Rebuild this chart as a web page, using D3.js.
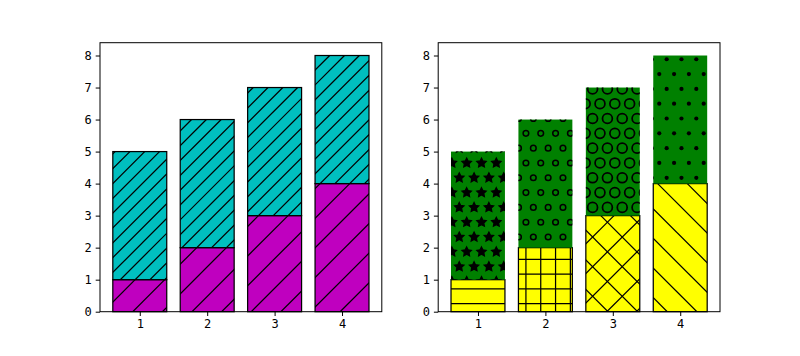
<!DOCTYPE html>
<html>
<head>
<meta charset="utf-8">
<script src="https://cdn.jsdelivr.net/npm/d3@7"></script>
<style>
  html, body { margin: 0; padding: 0; background: #fff; }
  svg { display: block; }
  text { font-family: "DejaVu Sans Mono", monospace; font-size: 12px; fill: #000; }
</style>
</head>
<body>
<svg id="chart" width="800" height="356"></svg>
<script>
// ---- data ----
const categories = [1, 2, 3, 4];
const bottomValues = [1, 2, 3, 4];
const topValues = [4, 4, 4, 4];
const yTickValues = [0, 1, 2, 3, 4, 5, 6, 7, 8];
const xTickValues = [1, 2, 3, 4];
const leftBottomHatch = ["/", "/", "/", "/"];
const leftTopHatch = ["//", "//", "//", "//"];
const rightBottomHatch = ["-", "+", "x", "\\"];
const rightTopHatch = ["*", "o", "O", "."];

// ---- layout ----
const W = 800, H = 356;
const DPI = 800 / 9;            // figure 9in wide
const T = DPI;                  // hatch tile size (px)
const S = T / 6;                // hatch density 6
const LW = DPI / 72;            // 1pt in px
const axTop = 42.7, axBottom = 311.7;
const axesX = [[100, 381.8], [438.2, 720]];

const svg = d3.select("#chart");
const defs = svg.append("defs");
let clipId = 0;

function drawHatch(g, pattern, x0, y0, x1, y1) {
  const id = "clip" + (clipId++);
  defs.append("clipPath").attr("id", id)
    .append("rect").attr("x", x0).attr("y", y0).attr("width", x1 - x0).attr("height", y1 - y0);
  const hg = g.append("g").attr("clip-path", `url(#${id})`);
  const line = (ax, ay, bx, by) => hg.append("line")
    .attr("x1", ax).attr("y1", ay).attr("x2", bx).attr("y2", by)
    .attr("stroke", "#000").attr("stroke-width", LW).attr("stroke-linecap", "butt");
  const cnt = ch => pattern.split(ch).length - 1;
  const ne = cnt("/") + cnt("x") + cnt("X");
  const se = cnt("\\") + cnt("x") + cnt("X");
  const hz = cnt("-") + cnt("+");
  const vt = cnt("|") + cnt("+");
  if (ne) {
    const d = 2 * T / (ne * 6);
    for (let m = Math.floor((x0 + y0) / d) - 1; m <= Math.ceil((x1 + y1) / d) + 1; m++) {
      const c = m * d;
      line(c - y1, y1, c - y0, y0);
    }
  }
  if (se) {
    const d = 2 * T / (se * 6);
    for (let m = Math.floor((x0 - y1) / d) - 1; m <= Math.ceil((x1 - y0) / d) + 1; m++) {
      const c = m * d;
      line(c + y0, y0, c + y1, y1);
    }
  }
  if (hz) {
    const d = T / (hz * 6);
    for (let k = Math.floor(y0 / d) - 1; k <= Math.ceil(y1 / d) + 1; k++) {
      const y = d / 2 + k * d;
      line(x0, y, x1, y);
    }
  }
  if (vt) {
    const d = T / (vt * 6);
    for (let k = Math.floor(x0 / d) - 1; k <= Math.ceil(x1 / d) + 1; k++) {
      const x = d / 2 + k * d;
      line(x, y0, x, y1);
    }
  }
  const shapes = [["o", 0.2, "ring"], ["O", 0.35, "ring"], [".", 0.1, "dot"], ["*", 1 / 3, "star"]];
  shapes.forEach(([ch, size, kind]) => {
    const n = cnt(ch);
    if (!n) return;
    const s = T / (6 * n);
    const r = s * size;
    for (let i = Math.floor(y0 / s) - 1; i <= Math.ceil(y1 / s) + 1; i++) {
      const cy = i * s;
      const off = (((i % 2) + 2) % 2) ? s / 2 : 0;
      for (let j = Math.floor(x0 / s) - 1; j <= Math.ceil(x1 / s) + 1; j++) {
        const cx = off + j * s;
        if (kind === "ring") {
          hg.append("circle").attr("cx", cx).attr("cy", cy).attr("r", 0.95 * r)
            .attr("fill", "none").attr("stroke", "#000").attr("stroke-width", 0.1 * r + LW);
        } else if (kind === "dot") {
          hg.append("circle").attr("cx", cx).attr("cy", cy).attr("r", r + LW / 2).attr("fill", "#000");
        } else {
          const pts = d3.range(10).map(k => {
            const a = -Math.PI / 2 + k * Math.PI / 5;
            const rr = k % 2 ? r * 0.5 : r;
            return [cx + rr * Math.cos(a), cy + rr * Math.sin(a)];
          });
          hg.append("polygon").attr("points", pts.map(p => p.join(",")).join(" "))
            .attr("fill", "#000").attr("stroke", "#000").attr("stroke-width", LW)
            .attr("stroke-linejoin", "miter");
        }
      }
    }
  });
}

function drawPanel(idx, bottomColor, topColor, bottomHatch, topHatch, bottomEdge, topEdge) {
  const [left, right] = axesX[idx];
  const x = d3.scaleLinear().domain([0.41, 4.59]).range([left, right]);
  const y = d3.scaleLinear().domain([0, 8.4]).range([axBottom, axTop]);
  const g = svg.append("g");
  const half = 0.4;

  const drawBar = (c, b, h, color, hatch, edge) => {
    const x0 = x(c - half), x1 = x(c + half);
    const y0 = y(b + h), y1 = y(b);
    g.append("rect").attr("x", x0).attr("y", y0).attr("width", x1 - x0).attr("height", y1 - y0)
      .attr("fill", color);
    drawHatch(g, hatch, x0, y0, x1, y1);
    if (edge) {
      g.append("rect").attr("x", x0).attr("y", y0).attr("width", x1 - x0).attr("height", y1 - y0)
        .attr("fill", "none").attr("stroke", edge).attr("stroke-width", LW);
    }
  };
  categories.forEach((c, i) => drawBar(c, 0, bottomValues[i], bottomColor, bottomHatch[i], bottomEdge));
  categories.forEach((c, i) => drawBar(c, bottomValues[i], topValues[i], topColor, topHatch[i], topEdge));

  // axes
  const xAxis = d3.axisBottom(x).tickValues(xTickValues).tickFormat(d3.format("d")).tickSize(4.3).tickPadding(3.2);
  const yAxis = d3.axisLeft(y).tickValues(yTickValues).tickFormat(d3.format("d")).tickSize(4.3).tickPadding(4);
  const gx = svg.append("g").attr("transform", `translate(0,${axBottom})`).call(xAxis);
  const gy = svg.append("g").attr("transform", `translate(${left},0)`).call(yAxis);
  [gx, gy].forEach(a => {
    a.select(".domain").remove();
    a.selectAll(".tick line").attr("stroke", "#000").attr("stroke-width", 1);
    a.selectAll(".tick text").attr("fill", "#000")
      .style("font-family", '"DejaVu Sans Mono", monospace').style("font-size", "12px");
  });
  svg.append("rect").attr("x", left).attr("y", axTop).attr("width", right - left).attr("height", axBottom - axTop)
    .attr("fill", "none").attr("stroke", "#000").attr("stroke-width", 1);
}

drawPanel(0, "#bf00bf", "#00bfbf", leftBottomHatch, leftTopHatch, "#000", "#000");
drawPanel(1, "#ffff00", "#008000", rightBottomHatch, rightTopHatch, "#000", null);
</script>
</body>
</html>
